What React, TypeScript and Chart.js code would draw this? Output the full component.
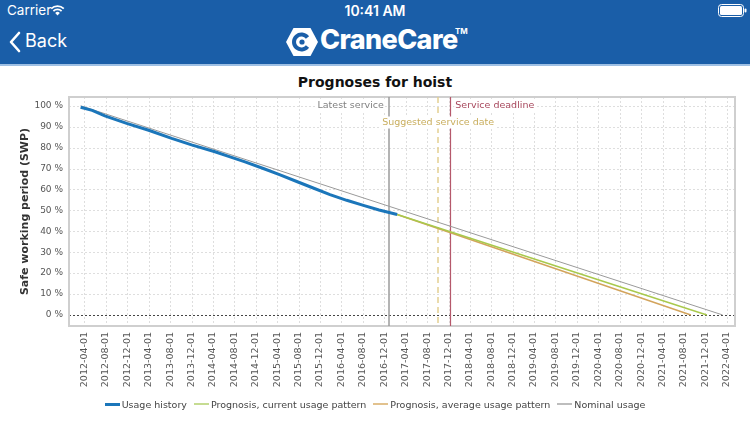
import React, { useEffect, useRef } from "react";
import { Chart, registerables } from "chart.js";

Chart.register(...registerables);

// ---------- DATA ----------
const historyDates = [
  "2012-03-10", "2012-05-15", "2012-07-26", "2012-11-27", "2013-04-01",
  "2013-08-10", "2013-12-01", "2014-04-13", "2014-07-08", "2014-10-01",
  "2015-01-13", "2015-04-15", "2015-07-22", "2015-10-20", "2016-01-27",
  "2016-05-01", "2016-08-04", "2016-11-01", "2017-02-12",
];
const historyValues = [
  99.3, 97.8, 95.2, 91.6, 88.3,
  84.4, 81.3, 78.0, 75.6, 73.2,
  70.0, 67.1, 63.8, 60.8, 57.5,
  54.8, 52.4, 50.2, 48.0,
];
const currentDates = ["2017-02-12", "2021-12-09"];
const currentValues = [48.0, 0];
const averageDates = ["2017-02-12", "2021-09-09"];
const averageValues = [48.0, 0];
const nominalDates = ["2012-03-10", "2022-03-08"];
const nominalValues = [100, 0];

const xTickLabels = [
  "2012-04-01", "2012-08-01", "2012-12-01", "2013-04-01", "2013-08-01", "2013-12-01",
  "2014-04-01", "2014-08-01", "2014-12-01", "2015-04-01", "2015-08-01", "2015-12-01",
  "2016-04-01", "2016-08-01", "2016-12-01", "2017-04-01", "2017-08-01", "2017-12-01",
  "2018-04-01", "2018-08-01", "2018-12-01", "2019-04-01", "2019-08-01", "2019-12-01",
  "2020-04-01", "2020-08-01", "2020-12-01", "2021-04-01", "2021-08-01", "2021-12-01",
  "2022-04-01",
];
const yTicks = [0, 10, 20, 30, 40, 50, 60, 70, 80, 90, 100];
const xRange = ["2012-01-04", "2022-05-18"];
const yRange = [-5.3, 104.2];

const chartTitle = "Prognoses for hoist";
const yTitle = "Safe working period (SWP)";
const eventNames = ["Latest service", "Suggested service date", "Service deadline"];
const eventDates = ["2016-12-27", "2017-10-03", "2017-12-11"];

const seriesNames = [
  "Usage history",
  "Prognosis, current usage pattern",
  "Prognosis, average usage pattern",
  "Nominal usage",
];

// ---------- STYLE ----------
const lineColors = ["#1b76ba", "#a9c94c", "#d3a45c", "#9a9a9a"];
const lineWidths = [3, 1.5, 1.5, 1];
const legendColors = ["#1b76ba", "#c6dc92", "#e2c28e", "#bdbdbd"];
const legendThick = [3, 2, 2, 2];
const FONT = "'DejaVu Sans', sans-serif";

const toMs = (s: string) => {
  const [y, m, d] = s.split("-").map(Number);
  return Date.UTC(y, m - 1, d);
};
const pts = (ds: string[], vs: number[]) => ds.map((d, i) => ({ x: toMs(d), y: vs[i] }));

const gridPlugin = {
  id: "customGrid",
  beforeDatasetsDraw(chart: any) {
    const { ctx, chartArea: a, scales } = chart;
    const xs = scales.x;
    const ys = scales.y;
    ctx.save();
    ctx.lineWidth = 1;
    ctx.strokeStyle = "#dedede";
    ctx.setLineDash([2, 2]);
    xs.ticks.forEach((t: any) => {
      const px = Math.round(xs.getPixelForValue(t.value)) + 0.5;
      ctx.beginPath();
      ctx.moveTo(px, a.top);
      ctx.lineTo(px, a.bottom);
      ctx.stroke();
    });
    ys.ticks.forEach((t: any) => {
      if (t.value === 0) return;
      const py = Math.round(ys.getPixelForValue(t.value)) + 0.5;
      ctx.beginPath();
      ctx.moveTo(a.left, py);
      ctx.lineTo(a.right, py);
      ctx.stroke();
    });
    // zero line
    const zy = Math.round(ys.getPixelForValue(0)) + 0.5;
    ctx.strokeStyle = "#444";
    ctx.setLineDash([2, 2]);
    ctx.beginPath();
    ctx.moveTo(a.left, zy);
    ctx.lineTo(a.right, zy);
    ctx.stroke();
    // frame
    ctx.setLineDash([]);
    ctx.strokeStyle = "#cfcfcf";
    ctx.lineWidth = 2;
    ctx.strokeRect(a.left, a.top, a.right - a.left, a.bottom - a.top);

    // event lines
    const ex = eventDates.map((d) => xs.getPixelForValue(toMs(d)));
    ctx.strokeStyle = "#9b9b9b";
    ctx.lineWidth = 1.5;
    ctx.beginPath();
    ctx.moveTo(Math.round(ex[0]), a.top);
    ctx.lineTo(Math.round(ex[0]), a.bottom);
    ctx.stroke();
    ctx.strokeStyle = "#e3d091";
    ctx.setLineDash([6, 4]);
    ctx.beginPath();
    ctx.moveTo(Math.round(ex[1]), a.top);
    ctx.lineTo(Math.round(ex[1]), a.bottom);
    ctx.stroke();
    ctx.setLineDash([]);
    ctx.strokeStyle = "#b5586b";
    ctx.lineWidth = 1.2;
    ctx.beginPath();
    ctx.moveTo(Math.round(ex[2]) + 0.5, a.top);
    ctx.lineTo(Math.round(ex[2]) + 0.5, a.bottom);
    ctx.stroke();
    ctx.restore();
  },
  afterDatasetsDraw(chart: any) {
    const { ctx, chartArea: a, scales } = chart;
    const xs = scales.x;
    const ex = eventDates.map((d) => xs.getPixelForValue(toMs(d)));
    ctx.save();
    ctx.font = `9.5px ${FONT}`;
    ctx.textBaseline = "middle";
    const y1 = a.top + 9;
    const y2 = a.top + 25.5;
    const drawLabel = (text: string, x: number, y: number, align: CanvasTextAlign, color: string) => {
      const w = ctx.measureText(text).width;
      let left = x;
      if (align === "right") left = x - w;
      if (align === "center") left = x - w / 2;
      ctx.fillStyle = "#ffffff";
      ctx.fillRect(left - 1, y - 6, w + 2, 12);
      ctx.fillStyle = color;
      ctx.textAlign = align;
      ctx.fillText(text, x, y);
    };
    drawLabel(eventNames[0], ex[0] - 5, y1, "right", "#808080");
    drawLabel(eventNames[2], ex[2] + 5, y1, "left", "#a7475c");
    drawLabel(eventNames[1], ex[1], y2, "center", "#c9ae5e");
    ctx.restore();
  },
};

function ChartView() {
  const ref = useRef<HTMLCanvasElement | null>(null);
  useEffect(() => {
    if (!ref.current) return;
    const xTickMs = xTickLabels.map(toMs);
    const dataSets = [
      pts(historyDates, historyValues),
      pts(currentDates, currentValues),
      pts(averageDates, averageValues),
      pts(nominalDates, nominalValues),
    ];
    const chart = new Chart(ref.current, {
      type: "line",
      data: {
        datasets: dataSets.map((d, i) => ({
          label: seriesNames[i],
          data: d,
          borderColor: lineColors[i],
          backgroundColor: lineColors[i],
          borderWidth: lineWidths[i],
          pointRadius: 0,
          tension: 0,
          fill: false,
          borderCapStyle: "butt",
        })),
      },
      options: {
        responsive: false,
        animation: false,
        events: [],
        layout: { padding: { left: 0, right: 15, top: 32, bottom: 0 } },
        plugins: {
          legend: { display: false },
          tooltip: { enabled: false },
          title: { display: false },
        },
        scales: {
          x: {
            type: "linear",
            min: toMs(xRange[0]),
            max: toMs(xRange[1]),
            afterBuildTicks: (s: any) => {
              s.ticks = xTickMs.map((v) => ({ value: v }));
            },
            afterFit: (s: any) => {
              s.height = 96;
            },
            grid: { display: false, drawTicks: false },
            border: { display: false },
            ticks: {
              autoSkip: false,
              maxRotation: 90,
              minRotation: 90,
              padding: 6,
              color: "#555",
              font: { family: FONT, size: 9.5 },
              callback: (_v: any, i: number) => xTickLabels[i],
            },
          },
          y: {
            type: "linear",
            min: yRange[0],
            max: yRange[1],
            afterBuildTicks: (s: any) => {
              s.ticks = yTicks.map((v) => ({ value: v }));
            },
            afterFit: (s: any) => {
              s.width = 69;
            },
            grid: { display: false, drawTicks: false },
            border: { display: false },
            ticks: {
              padding: 6,
              color: "#555",
              font: { family: FONT, size: 9 },
              callback: (v: any) => `${v} %`,
            },
            title: {
              display: true,
              text: yTitle,
              color: "#333",
              font: { family: FONT, size: 11, weight: "bold" },
              padding: { top: 19, bottom: 0 },
            },
          },
        },
      },
      plugins: [gridPlugin],
    } as any);
    return () => chart.destroy();
  }, []);
  return <canvas ref={ref} width={750} height={357} style={{ display: "block", width: 750, height: 357 }} />;
}

function Header() {
  const white = "#ffffff";
  return (
    <div style={{ position: "absolute", left: 0, top: 0, width: 750, height: 66, background: "#1a5ea8" }}>
      <div style={{ position: "absolute", left: 0, top: 64, width: 750, height: 2, background: "#9fc0e4" }} />
      <div style={{ position: "absolute", left: 7, top: 2, color: white, font: "13.5px Inter, 'Liberation Sans', sans-serif" }}>Carrier</div>
      <svg style={{ position: "absolute", left: 50, top: 4 }} width="15" height="12" viewBox="0 0 15 12">
        <path d="M7.5 11.5 L5.2 8.9 A3.4 3.4 0 0 1 9.8 8.9 Z" fill={white} />
        <path d="M3.4 7.1 A5.9 5.9 0 0 1 11.6 7.1" stroke={white} strokeWidth="1.8" fill="none" />
        <path d="M1.2 4.6 A9 9 0 0 1 13.8 4.6" stroke={white} strokeWidth="1.8" fill="none" />
      </svg>
      <div style={{ position: "absolute", left: 0, width: 750, top: 2, textAlign: "center", color: white, font: "600 14px Inter, 'Liberation Sans', sans-serif" }}>10:41 AM</div>
      <svg style={{ position: "absolute", left: 718, top: 4 }} width="30" height="13" viewBox="0 0 30 13">
        <rect x="0.5" y="0.5" width="25" height="12" rx="3" fill="none" stroke={white} strokeWidth="1" />
        <rect x="2" y="2" width="22" height="9" rx="1.5" fill={white} />
        <rect x="26.5" y="4.5" width="2" height="4" rx="1" fill={white} />
      </svg>
      <svg style={{ position: "absolute", left: 8, top: 31 }} width="14" height="22" viewBox="0 0 14 22">
        <path d="M11 2 L3 11 L11 20" stroke={white} strokeWidth="2.6" fill="none" strokeLinecap="round" strokeLinejoin="round" />
      </svg>
      <div style={{ position: "absolute", left: 25, top: 30, color: white, font: "18px Inter, 'Liberation Sans', sans-serif" }}>Back</div>
      <svg style={{ position: "absolute", left: 285, top: 26 }} width="34" height="32" viewBox="0 0 34 32">
        <polygon points="1,16 8.5,2 25.5,2 33,16 25.5,30 8.5,30" fill={white} />
        <path d="M22.5 11.5 A7.5 7.5 0 1 0 22.5 20.5" stroke="#1a5ea8" strokeWidth="4" fill="none" />
        <circle cx="17" cy="16" r="2.6" fill="#1a5ea8" />
      </svg>
      <div style={{ position: "absolute", left: 320, top: 23, color: white, font: "800 27px Inter, 'Liberation Sans', sans-serif", letterSpacing: -0.6 }}>CraneCare</div>
      <div style={{ position: "absolute", left: 455, top: 26, color: white, font: "700 8px Inter, sans-serif" }}>TM</div>
    </div>
  );
}

function Legend() {
  return (
    <div
      style={{
        position: "absolute",
        left: 0,
        top: 397,
        width: 750,
        height: 14,
        display: "flex",
        justifyContent: "center",
        alignItems: "center",
        font: `9.5px ${FONT}`,
        color: "#444",
        whiteSpace: "nowrap",
      }}
    >
      {seriesNames.map((n, i) => (
        <div key={n} style={{ display: "flex", alignItems: "center", marginLeft: i === 0 ? 0 : 7 }}>
          <span style={{ display: "inline-block", width: 15, height: legendThick[i], background: legendColors[i], marginRight: 2 }} />
          <span>{n}</span>
        </div>
      ))}
    </div>
  );
}

export default function App() {
  return (
    <div style={{ position: "fixed", left: 0, top: 0, width: 750, height: 422, background: "#fff", overflow: "hidden" }}>
      <Header />
      <div
        style={{
          position: "absolute",
          left: 0,
          top: 74,
          width: 750,
          textAlign: "center",
          font: `bold 14px ${FONT}`,
          lineHeight: "17px",
          color: "#111",
        }}
      >
        {chartTitle}
      </div>
      <div style={{ position: "absolute", left: 0, top: 65, width: 750, height: 357 }}>
        <ChartView />
      </div>
      <Legend />
    </div>
  );
}
